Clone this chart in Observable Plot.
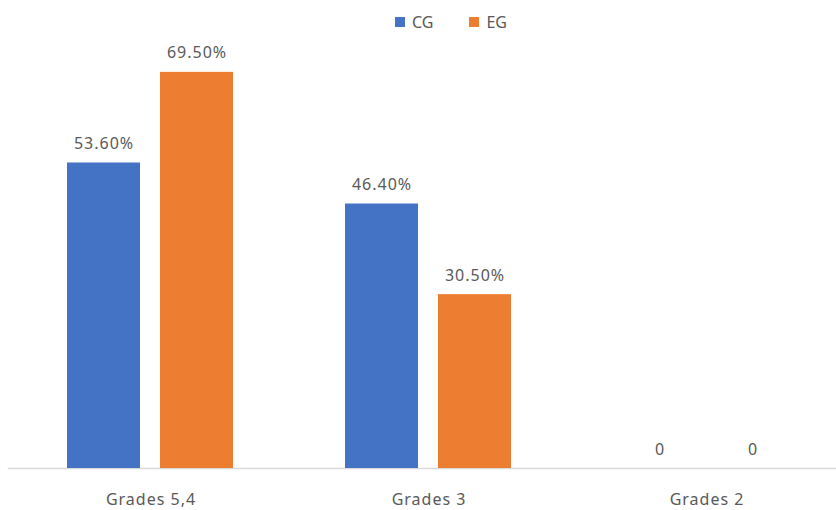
<!DOCTYPE html>
<html><head><meta charset="utf-8">
<script src="https://cdn.jsdelivr.net/npm/d3@7"></script>
<script src="https://cdn.jsdelivr.net/npm/@observablehq/plot@0.6"></script>
<style>
body{margin:0;background:#fff;font-family:"Noto Sans",sans-serif;}
.lg-swatches{height:44px !important;min-height:0 !important;margin:0 !important;justify-content:flex-start !important;align-items:center !important;padding-left:395px;box-sizing:border-box;font-family:"Noto Sans",sans-serif !important;font-size:16px !important;color:#595959 !important;}
.lg-swatch{margin-right:36px !important;}
.lg-swatch svg{margin-right:7px !important;}
</style>
</head><body><div id="chart"></div>
<script>
const categories = ["Grades 5,4", "Grades 3", "Grades 2"];
const series = ["CG", "EG"];
const cgValues = [53.6, 46.4, 0];
const egValues = [69.5, 30.5, 0];
const colors = ["#4472C4", "#ED7D31"];

const data = categories.flatMap((c, i) => [
  {group: c, series: "CG", value: cgValues[i]},
  {group: c, series: "EG", value: egValues[i]}
]);
const fmt = v => v === 0 ? "0" : v.toFixed(2) + "%";

const legend = Plot.legend({
  color: {domain: series, range: colors},
  legend: "swatches",
  swatchSize: 10,
  className: "lg"
});

const chart = Plot.plot({
  width: 836,
  height: 466,
  marginTop: 25,
  marginBottom: 42,
  marginLeft: 8,
  marginRight: -12,
  style: {fontFamily: "Noto Sans, sans-serif", fontSize: "16px", letterSpacing: "1px", color: "#595959", background: "#fff", overflow: "visible"},
  fx: {domain: categories, paddingInner: 0.4, paddingOuter: 0.208, label: null, axis: "bottom", tickSize: 0, tickPadding: 25},
  x: {domain: series, paddingInner: 0.214, paddingOuter: 0, axis: null},
  y: {domain: [0, 70], axis: null},
  color: {domain: series, range: colors},
  marks: [
    Plot.frame({anchor: "bottom", facet: "super", stroke: "#d9d9d9", strokeWidth: 1.5, insetLeft: -59, insetRight: -46}),
    Plot.barY(data, {fx: "group", x: "series", y: "value", fill: "series"}),
    Plot.text(data, {fx: "group", x: "series", y: "value", text: d => fmt(d.value), dy: -19, fill: "#595959", fontSize: 16})
  ]
});

const root = document.getElementById("chart");
root.appendChild(legend);
root.appendChild(chart);
</script>
</body></html>
